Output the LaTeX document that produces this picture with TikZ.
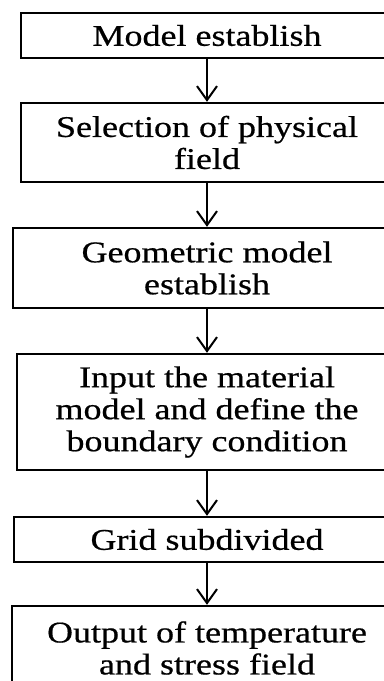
\documentclass[tikz,border=0pt]{standalone}
\usepackage{fontspec}
\usepackage{tikz}
\usetikzlibrary{arrows.meta,positioning}
\newfontfamily\boxfont[FakeStretch=1.2,FakeBold=0.6]{Liberation Serif}

\begin{document}
\begin{tikzpicture}[
    x=0.5pt, y=-0.5pt,
    stage/.style={draw, line width=1.2pt, align=center, inner sep=0pt,
        font=\boxfont\fontsize{15}{16}\selectfont},
    flow/.style={-{Straight Barb[length=7pt,width=10pt,line width=1pt]}, line width=1.1pt},
]

% page frame
\fill[white] (0,0) rectangle (384,681);
\useasboundingbox (0,0) rectangle (384,681);
\clip (0,0) rectangle (384,681);

% Steps
\node[stage, minimum width=186pt, minimum height=22.5pt] (model) at (207,35.5) {Model establish};
\node[stage, minimum width=186pt, minimum height=39.5pt] (field) at (207,142.5) {Selection of physical\\field};
\node[stage, minimum width=194pt, minimum height=40pt] (geom) at (207,268) {Geometric model\\establish};
\node[stage, minimum width=190pt, minimum height=58pt] (material) at (207,412) {Input the material\\model and define the\\boundary condition};
\node[stage, minimum width=193pt, minimum height=22.5pt] (grid) at (207,539.5) {Grid subdivided};
\node[stage, minimum width=195pt, minimum height=42pt] (output) at (207,648) {Output of temperature\\and stress field};

% Arrows
\draw[flow] (model) -- (field);
\draw[flow] (field) -- (geom);
\draw[flow] (geom) -- (material);
\draw[flow] (material) -- (grid);
\draw[flow] (grid) -- (output);

\end{tikzpicture}
\end{document}
